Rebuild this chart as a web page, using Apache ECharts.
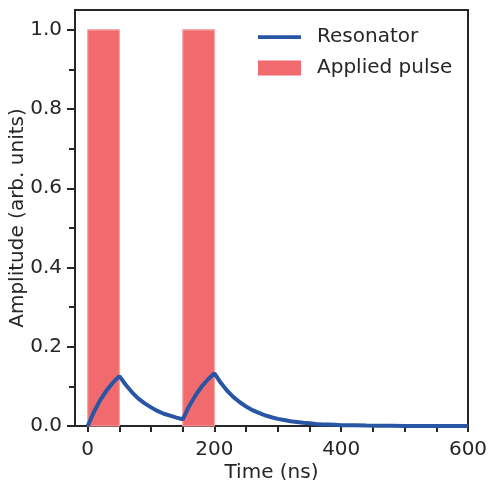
<!DOCTYPE html>
<html>
<head>
<meta charset="utf-8">
<script src="https://cdn.jsdelivr.net/npm/echarts@6/dist/echarts.min.js"></script>
<style>html,body{margin:0;padding:0;background:#fff;}#c{width:489px;height:480px;}</style>
</head>
<body>
<div id="c"></div>
<script>
// Resonator amplitude (time in ns, amplitude in arb. units)
const timeNs = [0,10,20,30,40,50,60,70,80,90,100,110,120,130,140,150,160,170,180,190,200,210,220,230,240,250,260,270,280,290,300,310,320,330,340,350,360,370,380,390,400,420,440,460,480,500,550,600];
const resonator = [0,0.036,0.066,0.090,0.110,0.126,0.104,0.085,0.069,0.057,0.047,0.038,0.031,0.026,0.021,0.017,0.050,0.077,0.100,0.118,0.133,0.109,0.089,0.073,0.060,0.049,0.040,0.033,0.027,0.022,0.018,0.015,0.012,0.010,0.008,0.007,0.005,0.004,0.004,0.003,0.002,0.0016,0.0011,0.0007,0.0005,0.0003,0.0001,0];
// Applied pulses
const pulseStart = [0, 150];
const pulseEnd = [50, 200];
const pulseHeight = [1, 1];
// Axis ticks
const xMajorTicks = [0, 200, 400, 600];
const xMinorTicks = [0,50,100,150,200,250,300,350,400,450,500,550,600];
const yMajorTicks = [0, 0.2, 0.4, 0.6, 0.8, 1.0];
const yMinorTicks = [0.1, 0.3, 0.5, 0.7, 0.9];

const txt = '#262626';
const font = 'DejaVu Sans';
const fs = 20;
const lineData = timeNs.map((t, i) => [t, resonator[i]]);
const pulseData = pulseStart.map((s, i) => [s, pulseEnd[i], pulseHeight[i]]);

const chart = echarts.init(document.getElementById('c'), null, {renderer: 'canvas'});
chart.setOption({
  animation: false,
  textStyle: {fontFamily: font, color: txt},
  grid: {left: 75, right: 21, top: 10, bottom: 54, show: true, borderColor: txt, borderWidth: 2,
    backgroundColor: 'transparent', containLabel: false, outerBoundsMode: 'none'},
  legend: {
    left: 258, top: 27, orient: 'vertical', itemWidth: 43, itemHeight: 15, itemGap: 11, padding: 0,
    textStyle: {fontSize: fs, color: txt, fontFamily: font, padding: [0, 0, 0, 11]},
    data: [
      {name: 'Resonator', icon: 'path://M0,0 M0,5.8 L43,5.8 L43,9.6 L0,9.6 Z M43,15'},
      {name: 'Applied pulse', icon: 'rect'}
    ]
  },
  xAxis: [{
    type: 'value', min: -20, max: 600,
    name: 'Time (ns)', nameLocation: 'middle', nameGap: 37, nameMoveOverlap: false,
    nameTextStyle: {fontSize: fs, color: txt, fontFamily: font},
    axisLine: {show: true, onZero: false, lineStyle: {color: txt, width: 2}},
    axisTick: {show: true, customValues: xMinorTicks, length: 6, lineStyle: {color: txt, width: 2}},
    axisLabel: {show: true, customValues: xMajorTicks, fontSize: fs, color: txt, margin: 14, fontFamily: font},
    splitLine: {show: false}
  }],
  yAxis: [{
    type: 'value', min: 0, max: 1.05,
    name: 'Amplitude (arb. units)', nameLocation: 'middle', nameGap: 47, nameMoveOverlap: false,
    nameTextStyle: {fontSize: fs, color: txt, fontFamily: font},
    axisLine: {show: true, onZero: false, lineStyle: {color: txt, width: 2}},
    axisTick: {show: true, customValues: yMajorTicks, length: 8, lineStyle: {color: txt, width: 2}},
    axisLabel: {show: true, customValues: yMajorTicks, fontSize: fs, color: txt, margin: 13, fontFamily: font,
      formatter: v => v.toFixed(1)},
    splitLine: {show: false}
  }, {
    type: 'value', min: 0, max: 1.05, position: 'left',
    axisLine: {show: false, onZero: false},
    axisTick: {show: true, customValues: yMinorTicks, length: 6, lineStyle: {color: txt, width: 2}},
    axisLabel: {show: false},
    splitLine: {show: false}
  }],
  series: [{
    name: 'Applied pulse', type: 'custom', data: pulseData, z: 1,
    itemStyle: {color: '#f16a6d'},
    renderItem: function (params, api) {
      const p0 = api.coord([api.value(0), api.value(2)]);
      const p1 = api.coord([api.value(1), 0]);
      return {
        type: 'rect',
        shape: {x: p0[0], y: p0[1], width: p1[0] - p0[0], height: p1[1] - p0[1]},
        style: {fill: '#f16a6d', stroke: '#f5a3a5', lineWidth: 1.2}
      };
    }
  }, {
    name: 'Resonator', type: 'line', data: lineData, z: 3,
    symbol: 'none', showSymbol: false,
    lineStyle: {color: '#2955a5', width: 4},
    itemStyle: {color: '#2955a5'}
  }]
});
</script>
</body>
</html>
